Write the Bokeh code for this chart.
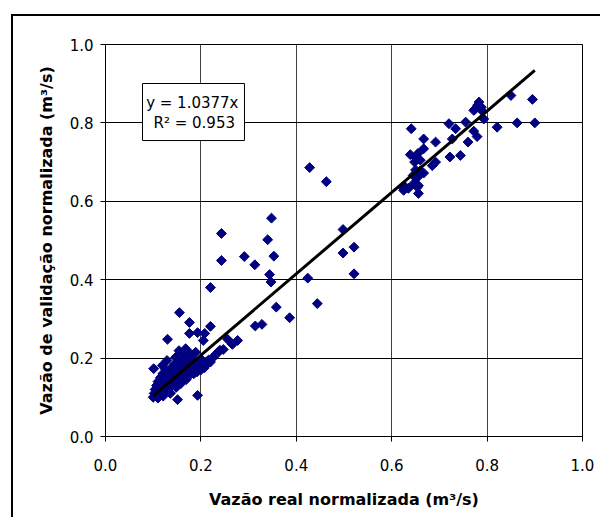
import math
from bokeh.plotting import figure
from bokeh.models import Range1d, FixedTicker, BoxAnnotation, Label, ColumnDataSource
from bokeh.embed import file_html
from bokeh.resources import INLINE

# ---- data -------------------------------------------------------------
x_low = [0.100, 0.102, 0.104, 0.105, 0.107, 0.108, 0.110, 0.110, 0.112, 0.113,
         0.115, 0.116, 0.118, 0.119, 0.120, 0.121, 0.122, 0.124, 0.125, 0.126,
         0.128, 0.129, 0.130, 0.131, 0.133, 0.135, 0.136, 0.138, 0.140, 0.141,
         0.143, 0.145, 0.146, 0.147, 0.148, 0.150, 0.152, 0.153, 0.154, 0.155,
         0.157, 0.158, 0.160, 0.161, 0.162, 0.164, 0.165, 0.167, 0.168, 0.169,
         0.170, 0.172, 0.174, 0.175, 0.177, 0.178, 0.180, 0.182, 0.184, 0.185,
         0.187, 0.189, 0.190, 0.192, 0.195, 0.197, 0.200, 0.202, 0.204, 0.207,
         0.210, 0.213, 0.216, 0.220, 0.224, 0.228, 0.232, 0.236, 0.240, 0.101,
         0.151, 0.193, 0.130, 0.155, 0.176, 0.176, 0.193, 0.208, 0.205, 0.220,
         0.220, 0.247, 0.256, 0.266, 0.277]
y_low = [0.100, 0.110, 0.120, 0.105, 0.130, 0.115, 0.140, 0.098, 0.125, 0.108,
         0.150, 0.135, 0.118, 0.181, 0.160, 0.103, 0.142, 0.128, 0.112, 0.170,
         0.150, 0.194, 0.135, 0.120, 0.160, 0.145, 0.110, 0.175, 0.130, 0.155,
         0.140, 0.185, 0.165, 0.202, 0.125, 0.150, 0.175, 0.140, 0.219, 0.160,
         0.190, 0.135, 0.170, 0.211, 0.150, 0.185, 0.160, 0.200, 0.224, 0.145,
         0.175, 0.165, 0.190, 0.155, 0.180, 0.211, 0.165, 0.175, 0.195, 0.160,
         0.170, 0.215, 0.180, 0.165, 0.175, 0.185, 0.170, 0.195, 0.180, 0.175,
         0.190, 0.185, 0.195, 0.190, 0.200, 0.205, 0.210, 0.215, 0.220, 0.173,
         0.094, 0.105, 0.248, 0.316, 0.291, 0.263, 0.265, 0.263, 0.245, 0.281,
         0.380, 0.222, 0.248, 0.235, 0.245]

x_mid = [0.243, 0.243, 0.291, 0.313, 0.353, 0.348, 0.340, 0.344, 0.347, 0.358,
         0.386, 0.314, 0.328, 0.424, 0.444, 0.498, 0.521, 0.498, 0.521, 0.428,
         0.463]
y_mid = [0.518, 0.449, 0.459, 0.438, 0.460, 0.557, 0.502, 0.413, 0.394, 0.330,
         0.303, 0.282, 0.286, 0.404, 0.339, 0.528, 0.483, 0.468, 0.415, 0.686,
         0.650]

x_high = [0.850, 0.895, 0.783, 0.780, 0.788, 0.775, 0.790, 0.772, 0.793, 0.755,
          0.720, 0.734, 0.821, 0.863, 0.900, 0.641, 0.772, 0.779, 0.667, 0.692,
          0.727, 0.760, 0.667, 0.655, 0.650, 0.660, 0.648, 0.639, 0.722, 0.744,
          0.692, 0.685, 0.650, 0.660, 0.667, 0.645, 0.654, 0.629, 0.646, 0.656,
          0.635, 0.625, 0.656, 0.654, 0.625]
y_high = [0.870, 0.860, 0.853, 0.845, 0.840, 0.835, 0.830, 0.832, 0.810, 0.802,
          0.798, 0.785, 0.789, 0.800, 0.800, 0.785, 0.779, 0.765, 0.759, 0.751,
          0.759, 0.751, 0.734, 0.722, 0.712, 0.705, 0.700, 0.719, 0.713, 0.717,
          0.700, 0.691, 0.680, 0.678, 0.672, 0.666, 0.661, 0.636, 0.645, 0.640,
          0.633, 0.633, 0.620, 0.636, 0.628]

slope = 1.0377
r_squared = 0.953
tick_values = [0.0, 0.2, 0.4, 0.6, 0.8, 1.0]
tick_labels = ["0.0", "0.2", "0.4", "0.6", "0.8", "1.0"]
x_title = "Vazão real normalizada (m³/s)"
y_title = "Vazão de validação normalizada (m³/s)"

xs = x_low + x_mid + x_high
ys = y_low + y_mid + y_high

FONT = "DejaVu Sans"

p = figure(width=589, height=503, output_backend="svg", toolbar_location=None,
           x_range=Range1d(0, 1), y_range=Range1d(0, 1),
           min_border_left=92, min_border_right=20, min_border_top=28,
           min_border_bottom=83)
# outer chart-area border (only its top and left edges fall inside the window)
p.styles = {"margin-left": "11px", "margin-top": "14px",
            "border-left": "2px solid #000000", "border-top": "2px solid #000000"}
p.outline_line_color = "black"
p.outline_line_width = 1

overrides = {v: l for v, l in zip(tick_values, tick_labels)}
for ax in (p.xaxis[0], p.yaxis[0]):
    ax.ticker = FixedTicker(ticks=tick_values, minor_ticks=[])
    ax.major_label_overrides = overrides
    ax.axis_line_color = "black"
    ax.major_tick_line_color = "black"
    ax.major_tick_out = 5
    ax.major_tick_in = 0
    ax.minor_tick_line_color = None
    ax.major_label_text_font = FONT
    ax.major_label_text_font_size = "15px"
    ax.major_label_text_color = "black"
    ax.axis_label_text_font = FONT
    ax.axis_label_text_font_size = "16px"
    ax.axis_label_text_font_style = "bold"
    ax.axis_label_text_color = "black"

p.xaxis.axis_label = x_title
p.yaxis.axis_label = y_title
p.xaxis.major_label_standoff = 17
p.yaxis.major_label_standoff = 7
p.xaxis.axis_label_standoff = 16
p.yaxis.axis_label_standoff = 11

p.xgrid.ticker = FixedTicker(ticks=tick_values)
p.ygrid.ticker = FixedTicker(ticks=tick_values)
p.xgrid.grid_line_color = "#404040"
p.ygrid.grid_line_color = "black"
p.xgrid.grid_line_alpha = 1
p.ygrid.grid_line_alpha = 1

src = ColumnDataSource(dict(x=xs, y=ys))
p.scatter("x", "y", source=src, marker="square", size=7, angle=math.pi / 4,
          fill_color="#000080", line_color="#000080")

x0, x1 = min(xs), max(xs)
p.line([x0, x1], [slope * x0, slope * x1], line_color="black", line_width=3)

# equation box
p.add_layout(BoxAnnotation(left=0.0776, right=0.2914, bottom=0.755, top=0.9005,
                           fill_color="white", fill_alpha=1,
                           line_color="black", line_width=1, line_alpha=1))
p.add_layout(Label(x=0.182, y=0.852, text=f"y = {slope}x", text_align="center",
                   text_baseline="middle", text_font=FONT,
                   text_font_size="15px", text_color="black"))
p.add_layout(Label(x=0.186, y=0.801, text=f"R² = {r_squared}", text_align="center",
                   text_baseline="middle", text_font=FONT,
                   text_font_size="15px", text_color="black"))

open("out.html", "w").write(file_html(p, INLINE))
